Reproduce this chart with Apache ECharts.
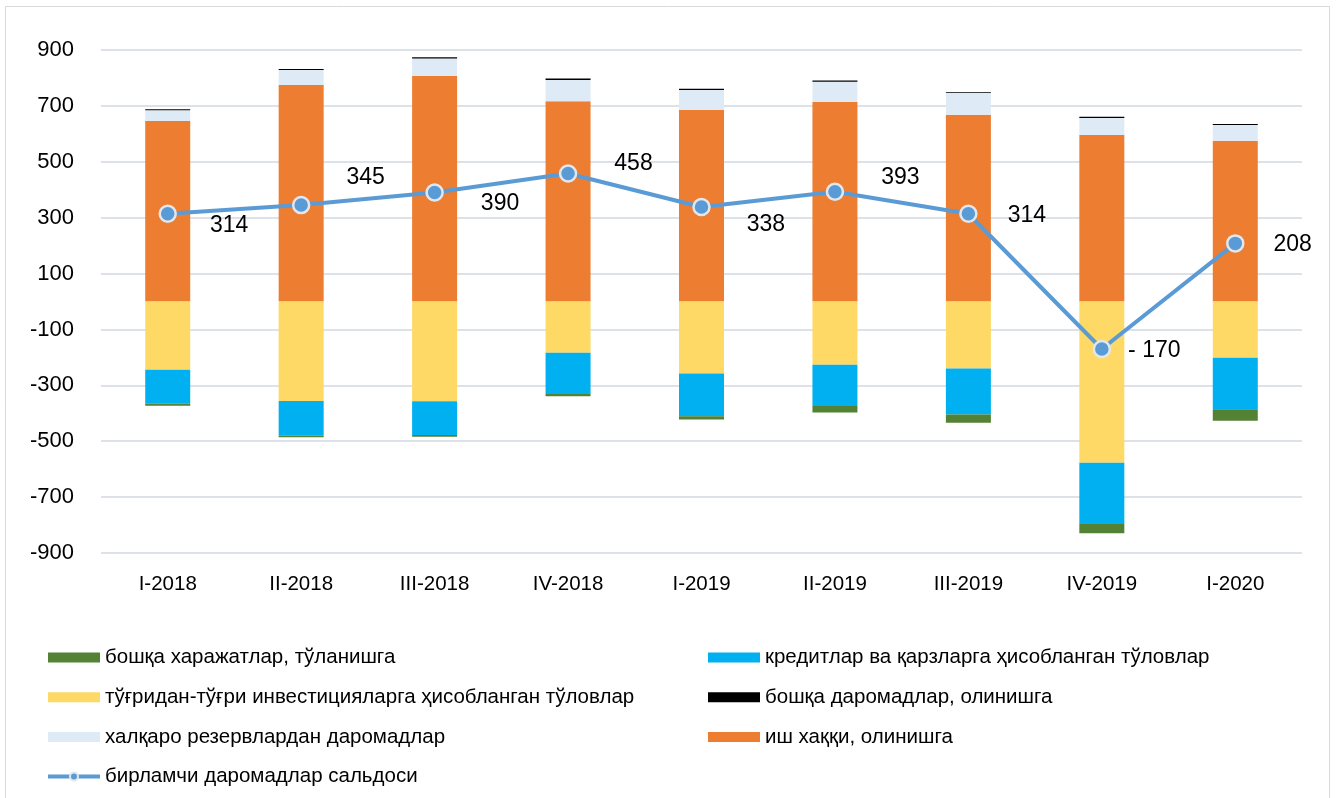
<!DOCTYPE html>
<html>
<head>
<meta charset="utf-8">
<script src="https://cdn.jsdelivr.net/npm/echarts@6/dist/echarts.min.js"></script>
<style>
  html, body { margin: 0; padding: 0; background: #fff; }
  #main { width: 1336px; height: 798px; }
</style>
</head>
<body>
<div id="main"></div>
<script>
// квартал
var categories = ['I-2018', 'II-2018', 'III-2018', 'IV-2018', 'I-2019', 'II-2019', 'III-2019', 'IV-2019', 'I-2020'];

// олинишга (+)
var wages = [646, 775, 807, 717, 685, 714, 668, 596, 575];
var reserveIncome = [38, 53, 63, 76, 72, 72, 79, 61, 57];
var otherIncome = [4, 4, 4, 5, 4, 5, 3, 4, 3];

// тўланишга (-)
var fdiPayments = [-244, -356, -357, -183, -258, -226, -240, -577, -201];
var loanPayments = [-122, -124, -121, -148, -153, -148, -164, -219, -185];
var otherExpenses = [-7, -6, -6, -8, -11, -23, -30, -33, -41];

// сальдо
var primaryBalance = [314, 345, 390, 458, 338, 393, 314, -170, 208];

// label shifts for the balance line (style only)
var labelShiftX = [28, 31, 32, 32, 31, 32, 25, 12, 24];
var labelShiftY = [12, -27, 11, -10, 18, -14, 2, 2, 1];

var FONT = 'Liberation Sans';

var balanceData = primaryBalance.map(function (v, i) {
    return {
        value: v,
        label: { offset: [labelShiftX[i], labelShiftY[i]] }
    };
});

var myChart = echarts.init(document.getElementById('main'));

function barSeries(name, data, color) {
    return {
        name: name,
        type: 'bar',
        stack: 'total',
        barWidth: 45,
        data: data,
        itemStyle: { color: color },
        emphasis: { disabled: true }
    };
}

var legendText = { fontSize: 20.5, lineHeight: 20, color: '#000', fontFamily: FONT };

myChart.setOption({
    backgroundColor: '#FFFFFF',
    animation: false,
    textStyle: { fontFamily: FONT },
    graphic: [{
        type: 'rect',
        shape: { x: 5.5, y: 6.5, width: 1324, height: 820 },
        style: { fill: 'none', stroke: '#D9D9D9', lineWidth: 1 },
        silent: true
    }],
    grid: { left: 101, right: 34, top: 50, bottom: 245 },
    legend: [{
        orient: 'vertical',
        left: 46,
        top: 647,
        padding: 0,
        itemWidth: 52,
        itemHeight: 10,
        itemGap: 18.7,
        textStyle: legendText,
        data: [
            { name: 'бошқа харажатлар, тўланишга', icon: 'rect' },
            { name: 'тўғридан-тўғри инвестицияларга ҳисобланган тўловлар', icon: 'rect' },
            { name: 'халқаро резервлардан даромадлар', icon: 'rect' },
            { name: 'бирламчи даромадлар сальдоси', lineStyle: { width: 4 } }
        ]
    }, {
        orient: 'vertical',
        left: 708,
        top: 647,
        padding: 0,
        itemWidth: 52,
        itemHeight: 10,
        itemGap: 18.7,
        icon: 'rect',
        textStyle: legendText,
        data: ['кредитлар ва қарзларга ҳисобланган тўловлар', 'бошқа даромадлар, олинишга', 'иш хаққи, олинишга']
    }],
    xAxis: {
        type: 'category',
        data: categories,
        axisLine: { show: false, onZero: false },
        axisTick: { show: false },
        axisLabel: { color: '#000', fontSize: 20.5, margin: 21, fontFamily: FONT }
    },
    yAxis: {
        type: 'value',
        min: -900,
        max: 900,
        interval: 200,
        axisLine: { show: false },
        axisTick: { show: false },
        axisLabel: { color: '#000', fontSize: 22, margin: 27, fontFamily: FONT },
        splitLine: { lineStyle: { color: '#DDE2E8', width: 2 } }
    },
    series: [
        barSeries('иш хаққи, олинишга', wages, '#ED7D31'),
        barSeries('халқаро резервлардан даромадлар', reserveIncome, '#DEEBF7'),
        barSeries('бошқа даромадлар, олинишга', otherIncome, '#000000'),
        barSeries('тўғридан-тўғри инвестицияларга ҳисобланган тўловлар', fdiPayments, '#FFD966'),
        barSeries('кредитлар ва қарзларга ҳисобланган тўловлар', loanPayments, '#00B0F0'),
        barSeries('бошқа харажатлар, тўланишга', otherExpenses, '#548235'),
        {
            name: 'бирламчи даромадлар сальдоси',
            type: 'line',
            data: balanceData,
            z: 10,
            symbol: 'circle',
            symbolSize: 16,
            lineStyle: { color: '#5B9BD5', width: 4 },
            itemStyle: { color: '#5B9BD5', borderColor: '#E2E7EE', borderWidth: 2.5 },
            label: {
                show: true,
                position: 'right',
                color: '#000',
                fontSize: 23,
                fontFamily: FONT,
                formatter: function (p) {
                    return p.value < 0 ? '- ' + Math.abs(p.value) : String(p.value);
                }
            },
            emphasis: { disabled: true }
        }
    ]
});
</script>
</body>
</html>
